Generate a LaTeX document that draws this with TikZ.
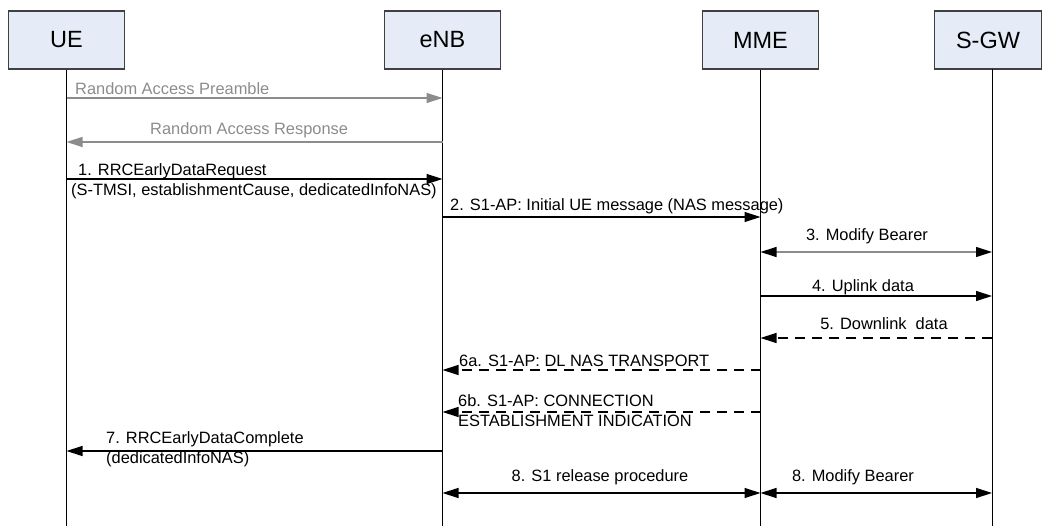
\documentclass[tikz,border=0pt]{standalone}
\usepackage{fontspec}
\setmainfont{Liberation Sans}
\usetikzlibrary{arrows.meta}
\definecolor{boxblue}{RGB}{230,236,247}
\definecolor{boxline}{RGB}{64,64,64}
\definecolor{ragray}{RGB}{140,140,140}
\tikzset{
  entity/.style={draw=boxline,fill=boxblue,line width=1.1pt,minimum width=116pt,
    minimum height=58pt,inner sep=0pt,font=\fontsize{23.5}{28}\selectfont},
  lifeline/.style={line width=1pt},
  msg/.style={line width=1.3pt,-{Triangle[length=16pt,width=10pt]}},
  twoway/.style={line width=1.3pt,
    {Triangle[length=16pt,width=10pt,color=black]}-{Triangle[length=16pt,width=10pt,color=black]}},
  reply/.style={msg,dash pattern=on 10pt off 7pt},
  lbl/.style={inner sep=0pt,font=\fontsize{16.4}{20}\selectfont,align=left},
}
\begin{document}
\begin{tikzpicture}[x=1pt,y=-1pt]
  \useasboundingbox (0,0) rectangle (1042,526);
  % entities
  \node[entity] (ue) at (66.5,40) {UE};
  \node[entity] (enb) at (442.5,40) {eNB};
  \node[entity] (mme) at (760.5,40) {MME};
  \node[entity,minimum width=107pt] (sgw) at (988,40) {S-GW};
  \coordinate (uel) at (ue.south);
  \coordinate (enbl) at (enb.south);
  \coordinate (mmel) at (mme.south);
  \coordinate (sgwl) at (992,69);
  \coordinate (bottom) at (0,526);
  % lifelines
  \foreach \l in {uel,enbl,mmel,sgwl}
    \draw[lifeline] (\l) -- (\l |- bottom);
  % message levels
  \coordinate (ra1) at (0,98);
  \coordinate (ra2) at (0,142);
  \coordinate (m1) at (0,179);
  \coordinate (m2) at (0,217);
  \coordinate (m3) at (0,252);
  \coordinate (m4) at (0,296);
  \coordinate (m5) at (0,338);
  \coordinate (m6a) at (0,370);
  \coordinate (m6b) at (0,412);
  \coordinate (m7) at (0,451);
  \coordinate (m8) at (0,493);
  % random access
  \draw[msg,draw=ragray,fill=ragray] (uel |- ra1) -- (enbl |- ra1);
  \draw[msg,draw=ragray,fill=ragray] (enbl |- ra2) -- (uel |- ra2);
  \node[lbl,text=ragray,anchor=base west] (tra1) at (75,95) {Random Access Preamble};
  \node[lbl,text=ragray,anchor=base west] (tra2) at (150,135) {Random Access Response};
  % messages
  \draw[msg] (uel |- m1) -- (enbl |- m1);
  \node[lbl,anchor=base west] (t1) at (71,196)
    {\hspace*{7pt}1. RRCEarlyDataRequest\\(S-TMSI, establishmentCause, dedicatedInfoNAS)};
  \draw[msg] (enbl |- m2) -- (mmel |- m2);
  \node[lbl,anchor=base west] (t2) at (450,211) {2. S1-AP: Initial UE message (NAS message)};
  \draw[twoway,draw=ragray] (mmel |- m3) -- (sgwl |- m3);
  \node[lbl,anchor=base] (t3) at (867,241) {3. Modify Bearer};
  \draw[msg] (mmel |- m4) -- (sgwl |- m4);
  \node[lbl,anchor=base] (t4) at (863,292) {4. Uplink data};
  \draw[reply] (sgwl |- m5) -- (mmel |- m5);
  \node[lbl,anchor=base] (t5) at (884,330) {5. Downlink\ \ data};
  \draw[reply] (mmel |- m6a) -- (enbl |- m6a);
  \node[lbl,anchor=base west] (t6a) at (459,367) {6a. S1-AP: DL NAS TRANSPORT};
  \draw[reply] (mmel |- m6b) -- (enbl |- m6b);
  \node[lbl,anchor=base west] (t6b) at (458,427) {6b. S1-AP: CONNECTION\\ESTABLISHMENT INDICATION};
  \draw[msg] (enbl |- m7) -- (uel |- m7);
  \node[lbl,anchor=base west] (t7) at (106,463.5) {7. RRCEarlyDataComplete\\(dedicatedInfoNAS)};
  \draw[twoway] (enbl |- m8) -- (mmel |- m8);
  \node[lbl,anchor=base] (t8a) at (600,482) {8. S1 release procedure};
  \draw[twoway] (mmel |- m8) -- (sgwl |- m8);
  \node[lbl,anchor=base] (t8b) at (853,482) {8. Modify Bearer};
\end{tikzpicture}
\end{document}
